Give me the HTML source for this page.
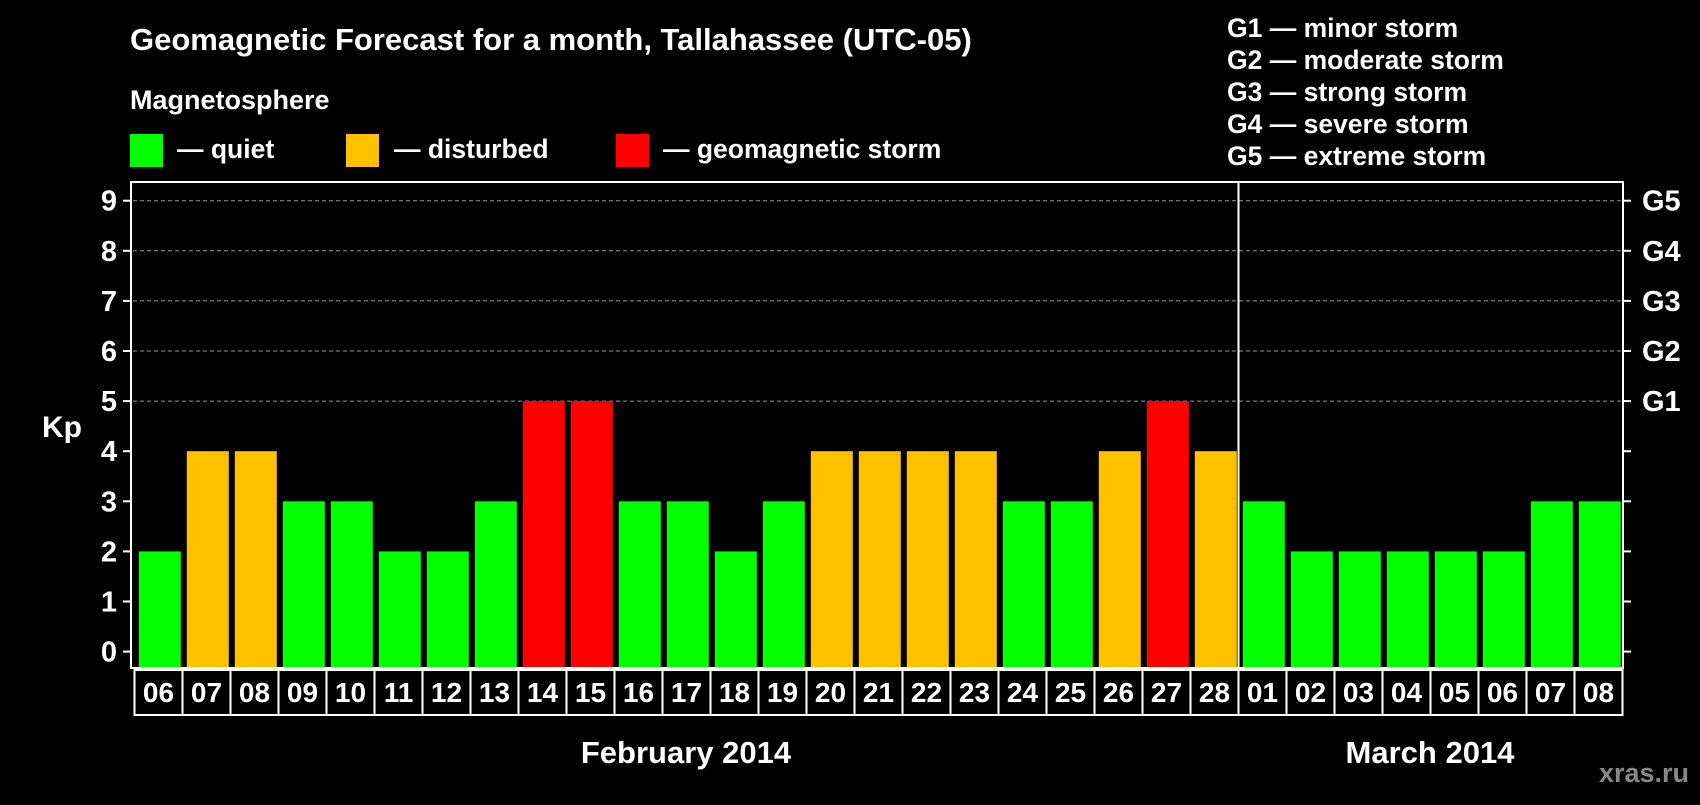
<!DOCTYPE html>
<html><head><meta charset="utf-8"><style>
html,body{margin:0;padding:0;background:#000;}
svg text{font-family:"Liberation Sans",Arial,sans-serif;font-weight:bold;fill:#fff;}
</style></head><body>
<svg id="chart" width="1700" height="800" xmlns="http://www.w3.org/2000/svg">
<rect width="1700" height="800" fill="#000"/>
<text x="130" y="50" font-size="31">Geomagnetic Forecast for a month, Tallahassee (UTC-05)</text>
<text x="130" y="109" font-size="27">Magnetosphere</text>
<rect x="130" y="134" width="33" height="33" fill="#00ff00"/>
<text x="177" y="158" font-size="26.5">— quiet</text>
<rect x="346" y="134" width="33" height="33" fill="#ffc000"/>
<text x="394" y="158" font-size="26.5">— disturbed</text>
<rect x="616" y="134" width="33" height="33" fill="#ff0000"/>
<text x="663" y="158" font-size="26.5">— geomagnetic storm</text>
<g font-size="26.5">
<text x="1227" y="37">G1 — minor storm</text>
<text x="1227" y="69">G2 — moderate storm</text>
<text x="1227" y="101">G3 — strong storm</text>
<text x="1227" y="133">G4 — severe storm</text>
<text x="1227" y="165">G5 — extreme storm</text>
</g>
<text x="42" y="437" font-size="30">Kp</text>
<g id="grid"></g>
<g id="bars"></g>
<rect x="131" y="182" width="1492" height="486" fill="none" stroke="#fff" stroke-width="2"/>
<line x1="1238.5" y1="182" x2="1238.5" y2="668" stroke="#fff" stroke-width="2"/>
<g id="xlabels"></g>
<text x="686" y="763" font-size="31" text-anchor="middle">February 2014</text>
<text x="1430" y="763" font-size="31" text-anchor="middle">March 2014</text>
<text x="1689" y="782" font-size="27" text-anchor="end" style="fill:#888">xras.ru</text>
</svg>
<script>
const days = ["06","07","08","09","10","11","12","13","14","15","16","17","18","19","20","21","22","23","24","25","26","27","28","01","02","03","04","05","06","07","08"];
const kp = [2,4,4,3,3,2,2,3,5,5,3,3,2,3,4,4,4,4,3,3,4,5,4,3,2,2,2,2,2,3,3];
const yTicks = [0,1,2,3,4,5,6,7,8,9];
const gLabels = ["G1","G2","G3","G4","G5"];
const NS="http://www.w3.org/2000/svg";
const y0=651.6, unit=50.1;
function yS(v){return y0-v*unit;}
function slotX(i){return 134.5+i*48;}
function color(v){return v>=5?"#ff0000":(v>=4?"#ffc000":"#00ff00");}
function mk(tag,attrs,parent){const e=document.createElementNS(NS,tag);for(const k in attrs)e.setAttribute(k,attrs[k]);parent.appendChild(e);return e;}
const grid=document.getElementById("grid"),bars=document.getElementById("bars"),xl=document.getElementById("xlabels");
yTicks.forEach(v=>{
  const y=yS(v);
  if(v>=5){const l=mk("line",{x1:133,x2:1622,y1:y,y2:y,stroke:"#999","stroke-dasharray":"4 3","stroke-width":1},grid);
    
    }
  const t1=mk("line",{x1:123,x2:131,y1:y,y2:y,stroke:"#fff","stroke-width":2},grid);
  
  
  const t2=mk("line",{x1:1623,x2:1631,y1:y,y2:y,stroke:"#fff","stroke-width":2},grid);
  
  
  const tx=mk("text",{x:117,y:y+10,"font-size":29,"text-anchor":"end"},grid);
  tx.textContent=v;
  
  
  if(v>=5){const g=mk("text",{x:1642,y:y+10,"font-size":29},grid);
    g.textContent=gLabels[v-5];
    
    }
});
kp.forEach((v,i)=>{
  const x=138.8+i*48;
  const r=mk("rect",{x:x,y:yS(v),width:42,height:668-yS(v),fill:color(v)},bars);
  
  
  const b=mk("rect",{x:slotX(i),y:670,width:48,height:45,fill:"none",stroke:"#fff","stroke-width":2},xl);
  
  
  const t=mk("text",{x:slotX(i)+24,y:702,"font-size":28,"text-anchor":"middle"},xl);
  t.textContent=days[i];
  
  
});
</script>
</body></html>
